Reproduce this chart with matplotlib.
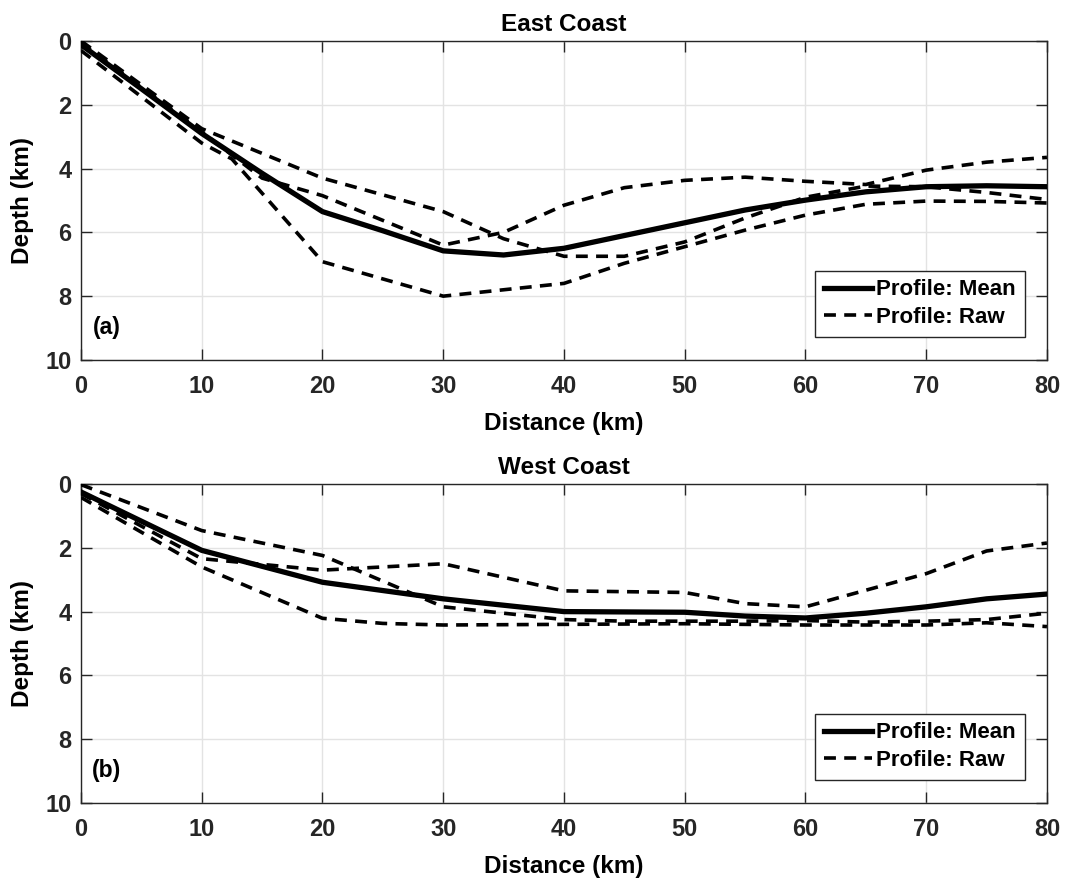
import matplotlib
matplotlib.use("Agg")
import matplotlib.pyplot as plt

plt.rcParams['font.family'] = ['Liberation Sans', 'DejaVu Sans']
plt.rcParams['font.weight'] = 'bold'

# ---------------- East Coast ----------------
east_mean_x = [0, 5, 10, 15, 20, 25, 30, 35, 40, 45, 50, 55, 60, 65, 70, 75, 80]
east_mean_y = [0.12, 1.5, 2.9, 4.15, 5.35, 5.95, 6.58, 6.71, 6.5, 6.1, 5.7, 5.3, 4.99, 4.73, 4.57, 4.54, 4.57]

east_raw1_x = [0, 10, 20, 30, 35, 40, 45, 50, 55, 60, 65, 70, 75, 80]
east_raw1_y = [0.0, 2.75, 4.3, 5.35, 6.2, 6.75, 6.75, 6.3, 5.55, 4.9, 4.55, 4.57, 4.75, 4.97]

east_raw2_x = [0, 10, 15, 20, 30, 35, 40, 45, 50, 55, 60, 65, 70, 75, 80]
east_raw2_y = [0.05, 2.85, 4.3, 4.85, 6.4, 6.0, 5.15, 4.6, 4.37, 4.27, 4.4, 4.5, 4.05, 3.8, 3.65]

east_raw3_x = [0, 10, 12.5, 20, 30, 35, 40, 45, 50, 55, 60, 65, 70, 75, 80]
east_raw3_y = [0.3, 3.2, 3.7, 6.92, 8.0, 7.8, 7.6, 6.97, 6.45, 5.93, 5.46, 5.12, 5.02, 5.03, 5.08]

# ---------------- West Coast ----------------
west_mean_x = [0, 10, 20, 30, 40, 50, 55, 60, 65, 70, 75, 80]
west_mean_y = [0.25, 2.08, 3.08, 3.6, 4.0, 4.02, 4.14, 4.2, 4.05, 3.85, 3.6, 3.45]

west_raw1_x = [0, 10, 20, 30, 40, 45, 50, 55, 60, 65, 70, 75, 80]
west_raw1_y = [0.02, 1.46, 2.24, 3.85, 4.25, 4.3, 4.3, 4.3, 4.28, 4.33, 4.3, 4.25, 4.05]

west_raw2_x = [0, 10, 20, 30, 40, 50, 55, 60, 70, 75, 80]
west_raw2_y = [0.3, 2.34, 2.7, 2.5, 3.35, 3.4, 3.75, 3.85, 2.81, 2.1, 1.85]

west_raw3_x = [0, 10, 20, 25, 30, 40, 50, 60, 70, 75, 80]
west_raw3_y = [0.42, 2.6, 4.21, 4.37, 4.42, 4.4, 4.38, 4.42, 4.42, 4.35, 4.47]

titles = ['East Coast', 'West Coast']
panel_tags = ['(a)', '(b)']
x_ticks = [0, 10, 20, 30, 40, 50, 60, 70, 80]
y_ticks = [0, 2, 4, 6, 8, 10]

fig = plt.figure(figsize=(10.67, 8.84), dpi=100)
ax_top = fig.add_axes([0.0759, 0.5928, 0.9053, 0.3609])
ax_bot = fig.add_axes([0.0759, 0.0916, 0.9053, 0.3609])

dash = (3.3, 2.3)
spine_col = '#262626'

datasets = [
    (east_mean_x, east_mean_y, [(east_raw1_x, east_raw1_y), (east_raw2_x, east_raw2_y), (east_raw3_x, east_raw3_y)]),
    (west_mean_x, west_mean_y, [(west_raw1_x, west_raw1_y), (west_raw2_x, west_raw2_y), (west_raw3_x, west_raw3_y)]),
]

for ax, (mx, my, raws), title, tag in zip([ax_top, ax_bot], datasets, titles, panel_tags):
    first = True
    for rx, ry in raws:
        ax.plot(rx, ry, color='black', lw=2.6, linestyle=(0, dash),
                label='Profile: Raw' if first else None, zorder=3)
        first = False
    ax.plot(mx, my, color='black', lw=3.8, label='Profile: Mean', zorder=4)

    ax.set_xlim(0, 80)
    ax.set_ylim(10, 0)
    ax.set_xticks(x_ticks)
    ax.set_yticks(y_ticks)
    ax.grid(True, color='#e3e3e3', lw=1.0, zorder=0)
    ax.set_axisbelow(True)
    ax.tick_params(direction='in', length=8, width=1.0, top=True, right=True,
                   labelsize=17, colors=spine_col)
    ax.tick_params(axis='x', pad=11)
    ax.tick_params(axis='y', pad=7)
    for lab in ax.get_xticklabels() + ax.get_yticklabels():
        lab.set_fontweight('bold')
    for s in ax.spines.values():
        s.set_color(spine_col)
        s.set_linewidth(1.0)
    ax.set_xlabel('Distance (km)', fontsize=17.5, fontweight='bold', labelpad=10)
    ax.set_ylabel('Depth (km)', fontsize=17.5, fontweight='bold', labelpad=8)
    ax.set_title(title, fontsize=17.5, fontweight='bold', pad=7)
    ax.text(2.15, 8.97, tag, fontsize=16.5, fontweight='bold', ha='center', va='center')

    handles, labels = ax.get_legend_handles_labels()
    order = [labels.index('Profile: Mean'), labels.index('Profile: Raw')]
    leg = ax.legend([handles[i] for i in order], [labels[i] for i in order],
                    loc='lower right', bbox_to_anchor=(0.9772, 0.072),
                    fontsize=16, frameon=True, fancybox=False, framealpha=1,
                    edgecolor='#262626', handlelength=2.15, handletextpad=0.2,
                    borderpad=0.4, labelspacing=0.3, borderaxespad=0)
    leg.get_frame().set_linewidth(1.0)
    for t in leg.get_texts():
        t.set_fontweight('bold')

fig.savefig('out.png', dpi=100)
